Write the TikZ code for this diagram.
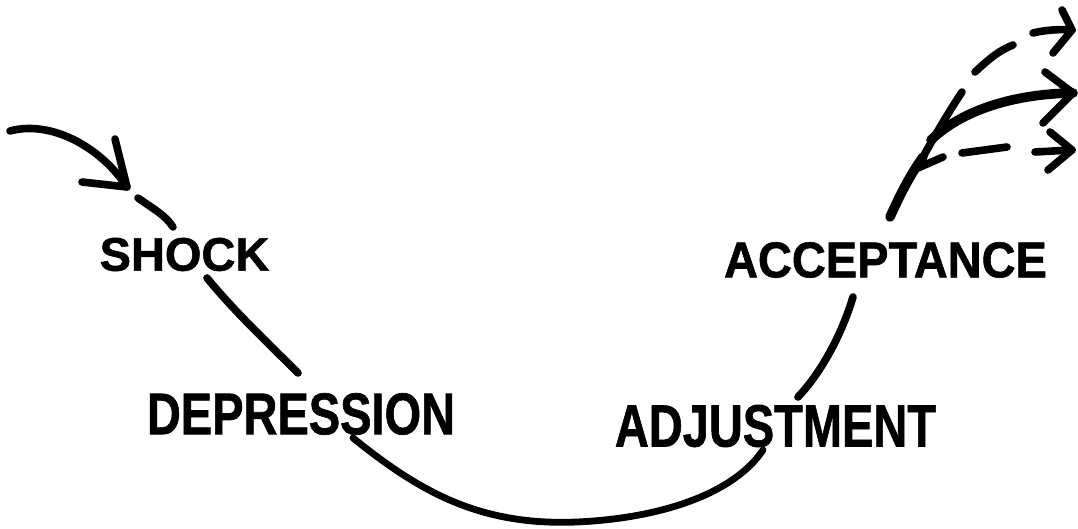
\documentclass[tikz,border=0pt]{standalone}
\usepackage{fontspec}
\setmainfont{Liberation Sans}[BoldFeatures={FakeBold=1.2}]
\begin{document}
\begin{tikzpicture}[x=0.5pt,y=-0.5pt,
  lab/.style={inner sep=0pt, font=\fontsize{23.5pt}{26pt}\selectfont\bfseries},
  pen/.style={line width=3.8pt, line cap=round, line join=round},
  thickpen/.style={line width=4.8pt, line cap=round, line join=round}]
\useasboundingbox (0,0) rectangle (1078,529);
\fill[white] (0,0) rectangle (1078,529);
% labels
\node[lab] (shock) at (184.5,254.5) {\scalebox{1.0}[1.0]{SHOCK}};
\node[lab] (depr) at (301,414) {\scalebox{1}[1.25]{DEPRESSION}};
\node[lab] (adj) at (775.5,426) {\scalebox{1}[1.27]{ADJUSTMENT}};
\node[lab] (acc) at (885.5,260) {\scalebox{1}[1.07]{ACCEPTANCE}};
% coordinates of the hand-drawn strokes
\coordinate (s0) at (10,131);
\coordinate (tipL) at (127,187);
\coordinate (bL1) at (115,139);
\coordinate (bL2) at (82,182);
\coordinate (d1a) at (138,198);
\coordinate (d1b) at (173,227);
\coordinate (c1a) at (207,278);
\coordinate (c1b) at (298,373);
\coordinate (c2a) at (353,438);
\coordinate (c2m) at (577,522);
\coordinate (c2b) at (763,450);
\coordinate (c3a) at (798,397);
\coordinate (c3b) at (853,297);
\coordinate (m0) at (890,217);
\coordinate (m1) at (923,157);
\coordinate (up1) at (962,92);
\coordinate (ud1a) at (975,72);
\coordinate (ud1b) at (1013,45);
\coordinate (ud2a) at (1033,33);
\coordinate (tipU) at (1072,30);
\coordinate (bU1) at (1062,10);
\coordinate (bU2) at (1053,53);
\coordinate (mid0) at (931,140);
\coordinate (tipM) at (1073,93);
\coordinate (bM1) at (1045,72);
\coordinate (bM2) at (1043,123);
\coordinate (lo0) at (918,168);
\coordinate (lo1) at (943,157);
\coordinate (ld1a) at (962,153);
\coordinate (ld1b) at (1007,147);
\coordinate (ld2a) at (1035,152);
\coordinate (tipD) at (1072,150);
\coordinate (bD1) at (1050,132);
\coordinate (bD2) at (1048,170);
% left entry arrow
\draw[pen] (s0) .. controls (50,120) and (100,146) .. (tipL);
\draw[pen] (bL1) -- (tipL) -- (bL2);
\draw[pen] (d1a) .. controls (155,210) and (165,215) .. (d1b);
% down to depression
\draw[pen] (c1a) .. controls (235,312) and (265,340) .. (c1b);
% the trough
\draw[line width=3.4pt, line cap=round] (c2a) .. controls (420,492) and (480,526) .. (c2m)
   .. controls (665,518) and (735,492) .. (c2b);
% up through adjustment to acceptance
\draw[pen] (c3a) .. controls (818,376) and (840,340) .. (c3b);
% final branches
\draw[thickpen] (m0) .. controls (900,195) and (910,175) .. (m1);
\draw[pen] (m1) .. controls (935,135) and (950,110) .. (up1);
\draw[pen] (ud1a) .. controls (990,58) and (1000,50) .. (ud1b);
\draw[pen] (ud2a) .. controls (1045,30) and (1060,29) .. (tipU);
\draw[pen] (bU1) -- (tipU) -- (bU2);
\draw[thickpen] (mid0) .. controls (960,112) and (1010,94) .. (tipM);
\draw[pen] (bM1) -- (tipM) -- (bM2);
\draw[pen] (lo0) -- (lo1);
\draw[pen] (ld1a) -- (ld1b);
\draw[pen] (ld2a) -- (tipD);
\draw[pen] (bD1) -- (tipD) -- (bD2);
\end{tikzpicture}
\end{document}
